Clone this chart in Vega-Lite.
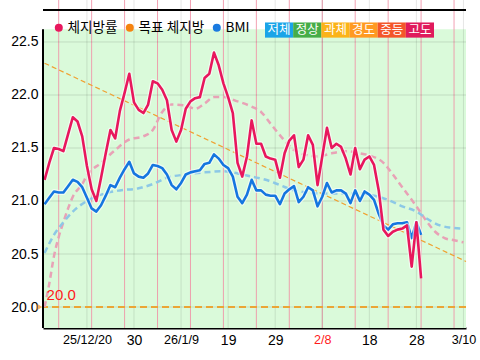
{
  "$schema": "https://vega.github.io/schema/vega-lite/v6.json",
  "width": 423,
  "height": 328,
  "autosize": {"type": "none"},
  "padding": {"left": 43, "top": 0, "right": 14, "bottom": 32},
  "background": "white",
  "config": {"view": {"stroke": null, "fill": "white"}, "font": "Liberation Sans"},
  "datasets": {
    "daily": [
      {"d": "2025-12-11T00:00", "fat": 21.20, "bmi": 20.97},
      {"d": "2025-12-12T00:00", "fat": 21.36, "bmi": 21.03},
      {"d": "2025-12-13T00:00", "fat": 21.50, "bmi": 21.09},
      {"d": "2025-12-14T00:00", "fat": 21.49, "bmi": 21.08},
      {"d": "2025-12-15T00:00", "fat": 21.47, "bmi": 21.08},
      {"d": "2025-12-16T00:00", "fat": 21.63, "bmi": 21.14},
      {"d": "2025-12-17T00:00", "fat": 21.79, "bmi": 21.20},
      {"d": "2025-12-18T00:00", "fat": 21.75, "bmi": 21.18},
      {"d": "2025-12-19T00:00", "fat": 21.61, "bmi": 21.13},
      {"d": "2025-12-20T00:00", "fat": 21.33, "bmi": 21.03},
      {"d": "2025-12-21T00:00", "fat": 21.11, "bmi": 20.93},
      {"d": "2025-12-22T00:00", "fat": 21.00, "bmi": 20.90},
      {"d": "2025-12-23T00:00", "fat": 21.22, "bmi": 20.96},
      {"d": "2025-12-24T00:00", "fat": 21.45, "bmi": 21.05},
      {"d": "2025-12-25T00:00", "fat": 21.67, "bmi": 21.15},
      {"d": "2025-12-26T00:00", "fat": 21.59, "bmi": 21.13},
      {"d": "2025-12-27T00:00", "fat": 21.85, "bmi": 21.22},
      {"d": "2025-12-28T00:00", "fat": 22.02, "bmi": 21.30},
      {"d": "2025-12-29T00:00", "fat": 22.20, "bmi": 21.37},
      {"d": "2025-12-30T00:00", "fat": 21.93, "bmi": 21.26},
      {"d": "2025-12-31T00:00", "fat": 21.86, "bmi": 21.23},
      {"d": "2026-01-01T00:00", "fat": 21.83, "bmi": 21.22},
      {"d": "2026-01-02T00:00", "fat": 21.91, "bmi": 21.26},
      {"d": "2026-01-03T00:00", "fat": 22.13, "bmi": 21.34},
      {"d": "2026-01-04T00:00", "fat": 22.11, "bmi": 21.33},
      {"d": "2026-01-05T00:00", "fat": 22.05, "bmi": 21.31},
      {"d": "2026-01-06T00:00", "fat": 21.95, "bmi": 21.25},
      {"d": "2026-01-07T00:00", "fat": 21.67, "bmi": 21.15},
      {"d": "2026-01-08T00:00", "fat": 21.56, "bmi": 21.11},
      {"d": "2026-01-09T00:00", "fat": 21.67, "bmi": 21.17},
      {"d": "2026-01-10T00:00", "fat": 21.87, "bmi": 21.25},
      {"d": "2026-01-11T00:00", "fat": 21.94, "bmi": 21.27},
      {"d": "2026-01-12T00:00", "fat": 21.97, "bmi": 21.28},
      {"d": "2026-01-13T00:00", "fat": 21.98, "bmi": 21.29},
      {"d": "2026-01-14T00:00", "fat": 22.16, "bmi": 21.35},
      {"d": "2026-01-15T00:00", "fat": 22.20, "bmi": 21.36},
      {"d": "2026-01-16T00:00", "fat": 22.40, "bmi": 21.44},
      {"d": "2026-01-17T00:00", "fat": 22.28, "bmi": 21.40},
      {"d": "2026-01-18T00:00", "fat": 22.11, "bmi": 21.34},
      {"d": "2026-01-19T00:00", "fat": 21.98, "bmi": 21.31},
      {"d": "2026-01-20T00:00", "fat": 21.83, "bmi": 21.23},
      {"d": "2026-01-21T00:00", "fat": 21.36, "bmi": 21.04},
      {"d": "2026-01-22T00:00", "fat": 21.23, "bmi": 20.98},
      {"d": "2026-01-23T00:00", "fat": 21.42, "bmi": 21.06},
      {"d": "2026-01-24T00:00", "fat": 21.76, "bmi": 21.20},
      {"d": "2026-01-25T00:00", "fat": 21.54, "bmi": 21.10},
      {"d": "2026-01-26T00:00", "fat": 21.54, "bmi": 21.10},
      {"d": "2026-01-27T00:00", "fat": 21.42, "bmi": 21.06},
      {"d": "2026-01-28T00:00", "fat": 21.40, "bmi": 21.05},
      {"d": "2026-01-29T00:00", "fat": 21.39, "bmi": 21.05},
      {"d": "2026-01-30T00:00", "fat": 21.22, "bmi": 20.97},
      {"d": "2026-01-31T00:00", "fat": 21.45, "bmi": 21.07},
      {"d": "2026-02-01T00:00", "fat": 21.57, "bmi": 21.11},
      {"d": "2026-02-02T00:00", "fat": 21.62, "bmi": 21.14},
      {"d": "2026-02-03T00:00", "fat": 21.32, "bmi": 20.99},
      {"d": "2026-02-04T00:00", "fat": 21.39, "bmi": 21.04},
      {"d": "2026-02-05T00:00", "fat": 21.62, "bmi": 21.13},
      {"d": "2026-02-06T00:00", "fat": 21.53, "bmi": 21.10},
      {"d": "2026-02-07T00:00", "fat": 21.15, "bmi": 20.95},
      {"d": "2026-02-08T00:00", "fat": 21.42, "bmi": 21.04},
      {"d": "2026-02-09T00:00", "fat": 21.69, "bmi": 21.17},
      {"d": "2026-02-10T00:00", "fat": 21.50, "bmi": 21.08},
      {"d": "2026-02-11T00:00", "fat": 21.54, "bmi": 21.10},
      {"d": "2026-02-12T00:00", "fat": 21.51, "bmi": 21.10},
      {"d": "2026-02-13T00:00", "fat": 21.40, "bmi": 21.07},
      {"d": "2026-02-14T00:00", "fat": 21.25, "bmi": 20.98},
      {"d": "2026-02-15T00:00", "fat": 21.50, "bmi": 21.10},
      {"d": "2026-02-16T00:00", "fat": 21.30, "bmi": 21.00},
      {"d": "2026-02-17T00:00", "fat": 21.39, "bmi": 21.09},
      {"d": "2026-02-18T00:00", "fat": 21.42, "bmi": 21.06},
      {"d": "2026-02-19T00:00", "fat": 21.34, "bmi": 21.01},
      {"d": "2026-02-20T00:00", "fat": 21.10, "bmi": 20.88},
      {"d": "2026-02-21T00:00", "fat": 20.73, "bmi": 20.77},
      {"d": "2026-02-22T00:00", "fat": 20.67, "bmi": 20.73},
      {"d": "2026-02-23T00:00", "fat": 20.71, "bmi": 20.78},
      {"d": "2026-02-24T00:00", "fat": 20.73, "bmi": 20.79},
      {"d": "2026-02-25T00:00", "fat": 20.74, "bmi": 20.79},
      {"d": "2026-02-26T00:00", "fat": 20.77, "bmi": 20.80},
      {"d": "2026-02-27T00:00", "fat": 20.38, "bmi": 20.65},
      {"d": "2026-02-28T00:00", "fat": 20.80, "bmi": 20.80},
      {"d": "2026-03-01T00:00", "fat": 20.27, "bmi": 20.68}
    ],
    "fatavg": [
      {"d": "2025-12-11T00:00", "v": 20.00},
      {"d": "2025-12-12T00:00", "v": 20.22},
      {"d": "2025-12-13T00:00", "v": 20.48},
      {"d": "2025-12-14T00:00", "v": 20.66},
      {"d": "2025-12-15T00:00", "v": 20.80},
      {"d": "2025-12-16T00:00", "v": 20.93},
      {"d": "2025-12-17T00:00", "v": 21.04},
      {"d": "2025-12-19T00:00", "v": 21.16},
      {"d": "2025-12-20T00:00", "v": 21.24},
      {"d": "2025-12-23T00:00", "v": 21.36},
      {"d": "2025-12-26T00:00", "v": 21.48},
      {"d": "2025-12-29T00:00", "v": 21.58},
      {"d": "2026-01-01T00:00", "v": 21.61},
      {"d": "2026-01-03T00:00", "v": 21.67},
      {"d": "2026-01-05T00:00", "v": 21.84},
      {"d": "2026-01-07T00:00", "v": 21.91},
      {"d": "2026-01-10T00:00", "v": 21.90},
      {"d": "2026-01-12T00:00", "v": 21.87},
      {"d": "2026-01-14T00:00", "v": 21.92},
      {"d": "2026-01-16T00:00", "v": 21.98},
      {"d": "2026-01-18T00:00", "v": 21.98},
      {"d": "2026-01-21T00:00", "v": 21.94},
      {"d": "2026-01-24T00:00", "v": 21.89},
      {"d": "2026-01-26T00:00", "v": 21.84},
      {"d": "2026-01-28T00:00", "v": 21.73},
      {"d": "2026-01-31T00:00", "v": 21.57},
      {"d": "2026-02-02T00:00", "v": 21.48},
      {"d": "2026-02-05T00:00", "v": 21.43},
      {"d": "2026-02-07T00:00", "v": 21.42},
      {"d": "2026-02-10T00:00", "v": 21.45},
      {"d": "2026-02-13T00:00", "v": 21.47},
      {"d": "2026-02-16T00:00", "v": 21.45},
      {"d": "2026-02-18T00:00", "v": 21.43},
      {"d": "2026-02-21T00:00", "v": 21.36},
      {"d": "2026-02-23T00:00", "v": 21.25},
      {"d": "2026-02-25T00:00", "v": 21.13},
      {"d": "2026-02-28T00:00", "v": 20.95},
      {"d": "2026-03-02T00:00", "v": 20.82},
      {"d": "2026-03-04T00:00", "v": 20.71},
      {"d": "2026-03-06T00:00", "v": 20.65},
      {"d": "2026-03-08T00:00", "v": 20.63},
      {"d": "2026-03-10T00:00", "v": 20.61}
    ],
    "bmiavg": [
      {"d": "2025-12-11T00:00", "v": 20.51},
      {"d": "2025-12-13T00:00", "v": 20.68},
      {"d": "2025-12-15T00:00", "v": 20.80},
      {"d": "2025-12-17T00:00", "v": 20.90},
      {"d": "2025-12-20T00:00", "v": 21.00},
      {"d": "2025-12-23T00:00", "v": 21.06},
      {"d": "2025-12-27T00:00", "v": 21.10},
      {"d": "2025-12-31T00:00", "v": 21.12},
      {"d": "2026-01-03T00:00", "v": 21.16},
      {"d": "2026-01-06T00:00", "v": 21.22},
      {"d": "2026-01-10T00:00", "v": 21.25},
      {"d": "2026-01-14T00:00", "v": 21.27},
      {"d": "2026-01-18T00:00", "v": 21.28},
      {"d": "2026-01-21T00:00", "v": 21.26},
      {"d": "2026-01-24T00:00", "v": 21.23},
      {"d": "2026-01-27T00:00", "v": 21.20},
      {"d": "2026-01-30T00:00", "v": 21.15},
      {"d": "2026-02-02T00:00", "v": 21.10},
      {"d": "2026-02-05T00:00", "v": 21.08},
      {"d": "2026-02-08T00:00", "v": 21.07},
      {"d": "2026-02-12T00:00", "v": 21.07},
      {"d": "2026-02-16T00:00", "v": 21.07},
      {"d": "2026-02-19T00:00", "v": 21.05},
      {"d": "2026-02-22T00:00", "v": 21.01},
      {"d": "2026-02-25T00:00", "v": 20.95},
      {"d": "2026-02-28T00:00", "v": 20.90},
      {"d": "2026-03-02T00:00", "v": 20.84},
      {"d": "2026-03-05T00:00", "v": 20.77},
      {"d": "2026-03-07T00:00", "v": 20.75},
      {"d": "2026-03-10T00:00", "v": 20.74}
    ],
    "trend": [
      {"d": "2025-12-11T00:00", "v": 22.30},
      {"d": "2026-03-10T13:00", "v": 20.43}
    ],
    "sundays": [
      {"d": "2025-12-14T00:00"}, {"d": "2025-12-21T00:00"}, {"d": "2025-12-28T00:00"},
      {"d": "2026-01-04T00:00"}, {"d": "2026-01-11T00:00"}, {"d": "2026-01-18T00:00"},
      {"d": "2026-01-25T00:00"}, {"d": "2026-02-01T00:00"}, {"d": "2026-02-08T00:00"},
      {"d": "2026-02-15T00:00"}, {"d": "2026-02-22T00:00"}, {"d": "2026-03-01T00:00"},
      {"d": "2026-03-08T00:00"}
    ],
    "ticks": [
      {"d": "2025-12-20T00:00"}, {"d": "2025-12-30T00:00"}, {"d": "2026-01-09T00:00"},
      {"d": "2026-01-19T00:00"}, {"d": "2026-01-29T00:00"}, {"d": "2026-02-08T00:00"},
      {"d": "2026-02-18T00:00"}, {"d": "2026-02-28T00:00"}, {"d": "2026-03-10T00:00"}
    ],
    "ygrid": [{"v": 20.0}, {"v": 20.5}, {"v": 21.0}, {"v": 21.5}, {"v": 22.0}, {"v": 22.5}],
    "zone": [{"lo": 19.802, "hi": 22.62}],
    "goal": [{"g": 20.0}],
    "legend": [{"name": "체지방률"}, {"name": "목표 체지방"}, {"name": "BMI"}],
    "bands": [{"label": "저체"}, {"label": "정상"}, {"label": "과체"}, {"label": "경도"}, {"label": "중등"}, {"label": "고도"}]
  },
  "layer": [
    {
      "layer": [
        {
          "data": {"name": "zone"},
          "mark": {"type": "rect", "color": "#dafada"},
          "encoding": {
            "y": {"field": "lo", "type": "quantitative", "title": null,
                  "scale": {"domain": [19.802, 22.896], "nice": false, "zero": false},
                  "axis": {"values": [20, 20.5, 21, 21.5, 22, 22.5], "format": ".1f", "grid": false, "domain": false, "ticks": false,
                           "labelFontSize": 14, "labelColor": "black", "labelPadding": 5, "labelFont": "Liberation Sans"}},
            "y2": {"field": "hi"}
          }
        },
        {
          "data": {"name": "sundays"},
          "mark": {"type": "rule", "color": "#f090a6", "strokeWidth": 1, "opacity": 0.85},
          "encoding": {
            "x": {"field": "d", "type": "temporal", "title": null,
                  "scale": {"domain": [{"year": 2025, "month": 12, "date": 10, "hours": 16}, {"year": 2026, "month": 3, "date": 10, "hours": 13}]},
                  "axis": {
                    "values": [
                      {"year": 2025, "month": 12, "date": 20}, {"year": 2025, "month": 12, "date": 30},
                      {"year": 2026, "month": 1, "date": 9}, {"year": 2026, "month": 1, "date": 19},
                      {"year": 2026, "month": 1, "date": 29}, {"year": 2026, "month": 2, "date": 8},
                      {"year": 2026, "month": 2, "date": 18}, {"year": 2026, "month": 2, "date": 28},
                      {"year": 2026, "month": 3, "date": 10}
                    ],
                    "grid": false, "ticks": false, "domain": true, "domainColor": "black", "domainWidth": 2,
                    "labelPadding": 5, "labelFont": "Liberation Sans",
                    "labelFontSize": {"condition": {"test": "indexof([20, 9, 8, 10], date(datum.value)) >= 0", "value": 12.6}, "value": 14},
                    "labelFlush": false, "labelOverlap": false,
                    "labelColor": {"condition": {"test": "day(datum.value) == 0", "value": "#ff1a1a"}, "value": "black"},
                    "labelExpr": "month(datum.value) == 11 && date(datum.value) == 20 ? '25/12/20' : (month(datum.value) == 0 && date(datum.value) == 9 ? '26/1/9' : (month(datum.value) == 1 && date(datum.value) == 8 ? '2/8' : (month(datum.value) == 2 && date(datum.value) == 10 ? '3/10' : timeFormat(datum.value, '%-d'))))"
                  }}
          }
        },
        {
          "data": {"name": "ticks"},
          "mark": {"type": "rule", "color": "#000000", "strokeWidth": 1, "opacity": 0.1},
          "encoding": {"x": {"field": "d", "type": "temporal", "title": null}}
        },
        {
          "data": {"name": "ygrid"},
          "mark": {"type": "rule", "color": "#000000", "strokeWidth": 1, "opacity": 0.12},
          "encoding": {"y": {"field": "v", "type": "quantitative", "title": null}}
        },
        {
          "data": {"name": "goal"},
          "mark": {"type": "rule", "color": "#eba535", "strokeWidth": 2.2, "strokeDash": [7, 4]},
          "encoding": {"y": {"field": "g", "type": "quantitative", "title": null}}
        },
        {
          "data": {"name": "trend"},
          "mark": {"type": "line", "color": "#f0a030", "strokeWidth": 1.2, "strokeDash": [5, 3]},
          "encoding": {
            "x": {"field": "d", "type": "temporal", "title": null},
            "y": {"field": "v", "type": "quantitative", "title": null}
          }
        },
        {
          "data": {"name": "fatavg"},
          "mark": {"type": "line", "color": "#e8a2b6", "strokeWidth": 2.5, "strokeDash": [6, 4], "interpolate": "monotone"},
          "encoding": {
            "x": {"field": "d", "type": "temporal", "title": null},
            "y": {"field": "v", "type": "quantitative", "title": null}
          }
        },
        {
          "data": {"name": "bmiavg"},
          "mark": {"type": "line", "color": "#8cc8e6", "strokeWidth": 2.5, "strokeDash": [6, 4], "interpolate": "monotone"},
          "encoding": {
            "x": {"field": "d", "type": "temporal", "title": null},
            "y": {"field": "v", "type": "quantitative", "title": null}
          }
        },
        {
          "data": {"name": "daily"},
          "mark": {"type": "line", "color": "white", "strokeWidth": 5, "opacity": 0.6, "strokeJoin": "round"},
          "encoding": {
            "x": {"field": "d", "type": "temporal", "title": null},
            "y": {"field": "bmi", "type": "quantitative", "title": null}
          }
        },
        {
          "data": {"name": "daily"},
          "mark": {"type": "line", "color": "#1576e0", "strokeWidth": 2.6, "strokeJoin": "round"},
          "encoding": {
            "x": {"field": "d", "type": "temporal", "title": null},
            "y": {"field": "bmi", "type": "quantitative", "title": null}
          }
        },
        {
          "data": {"name": "daily"},
          "mark": {"type": "line", "color": "white", "strokeWidth": 5, "opacity": 0.6, "strokeJoin": "round"},
          "encoding": {
            "x": {"field": "d", "type": "temporal", "title": null},
            "y": {"field": "fat", "type": "quantitative", "title": null}
          }
        },
        {
          "data": {"name": "daily"},
          "mark": {"type": "line", "color": "#e8175d", "strokeWidth": 2.6, "strokeJoin": "round"},
          "encoding": {
            "x": {"field": "d", "type": "temporal", "title": null},
            "y": {"field": "fat", "type": "quantitative", "title": null}
          }
        },
        {
          "data": {"name": "goal"},
          "mark": {"type": "text", "color": "#ff1a1a", "fontSize": 15, "align": "left", "baseline": "bottom", "dx": 2, "dy": -4, "font": "Liberation Sans"},
          "encoding": {
            "x": {"datum": {"year": 2025, "month": 12, "date": 11}, "type": "temporal"},
            "y": {"field": "g", "type": "quantitative", "title": null},
            "text": {"field": "g", "type": "quantitative", "format": ".1f"}
          }
        },
        {
          "data": {"name": "goal"},
          "mark": {"type": "point", "shape": "triangle-right", "filled": true, "color": "#f5b060", "size": 30, "opacity": 1, "xOffset": -3},
          "encoding": {
            "x": {"datum": {"year": 2025, "month": 12, "date": 10, "hours": 16}, "type": "temporal"},
            "y": {"field": "g", "type": "quantitative", "title": null}
          }
        },
        {
          "data": {"name": "zone"},
          "mark": {"type": "rule", "color": "black", "strokeWidth": 2},
          "encoding": {
            "x": {"datum": {"year": 2025, "month": 12, "date": 10, "hours": 16}, "type": "temporal"},
            "y": {"field": "lo", "type": "quantitative", "title": null},
            "y2": {"field": "hi"}
          }
        },
        {
          "data": {"values": [{"top": 22.802}]},
          "mark": {"type": "rule", "color": "black", "strokeWidth": 2},
          "encoding": {"y": {"field": "top", "type": "quantitative", "title": null}}
        },
        {
          "data": {"name": "legend"},
          "mark": {"type": "point", "filled": true, "opacity": 0},
          "encoding": {
            "x": {"datum": {"year": 2026, "month": 1, "date": 15}, "type": "temporal"},
            "y": {"datum": 21},
            "color": {"field": "name", "type": "nominal",
                      "scale": {"domain": ["체지방률", "목표 체지방", "BMI"], "range": ["#e8175d", "#f5830f", "#1a7ae0"]},
                      "legend": {"orient": "none", "legendX": 9, "legendY": 21, "direction": "horizontal", "title": null,
                                 "symbolType": "circle", "symbolSize": 64, "symbolStrokeWidth": 0, "symbolOpacity": 1,
                                 "labelFontSize": 13.6, "labelFont": "Noto Sans CJK KR", "labelColor": "black", "labelOffset": 2,
                                 "columnPadding": 5, "gridAlign": "none", "padding": 0}}
          }
        }
      ]
    },
    {
      "data": {"name": "bands"},
      "encoding": {
        "x": {"field": "label", "type": "nominal", "axis": null,
              "scale": {"type": "band", "domain": ["저체", "정상", "과체", "경도", "중등", "고도"], "range": [222, 391], "paddingInner": 0, "paddingOuter": 0}}
      },
      "layer": [
        {
          "mark": {"type": "rect"},
          "encoding": {
            "y": {"datum": 22.684},
            "y2": {"datum": 22.541},
            "color": {"field": "label", "type": "nominal", "legend": null,
                      "scale": {"domain": ["저체", "정상", "과체", "경도", "중등", "고도"], "range": ["#1aa4e8", "#46ad48", "#fbb319", "#ff9a22", "#f4562a", "#e01b5c"]}}
          }
        },
        {
          "mark": {"type": "text", "color": "white", "fontSize": 12.5, "font": "Noto Sans CJK KR", "baseline": "middle"},
          "encoding": {
            "y": {"datum": 22.612},
            "text": {"field": "label"}
          }
        }
      ]
    }
  ],
  "resolve": {"scale": {"x": "independent", "color": "independent"}}
}
